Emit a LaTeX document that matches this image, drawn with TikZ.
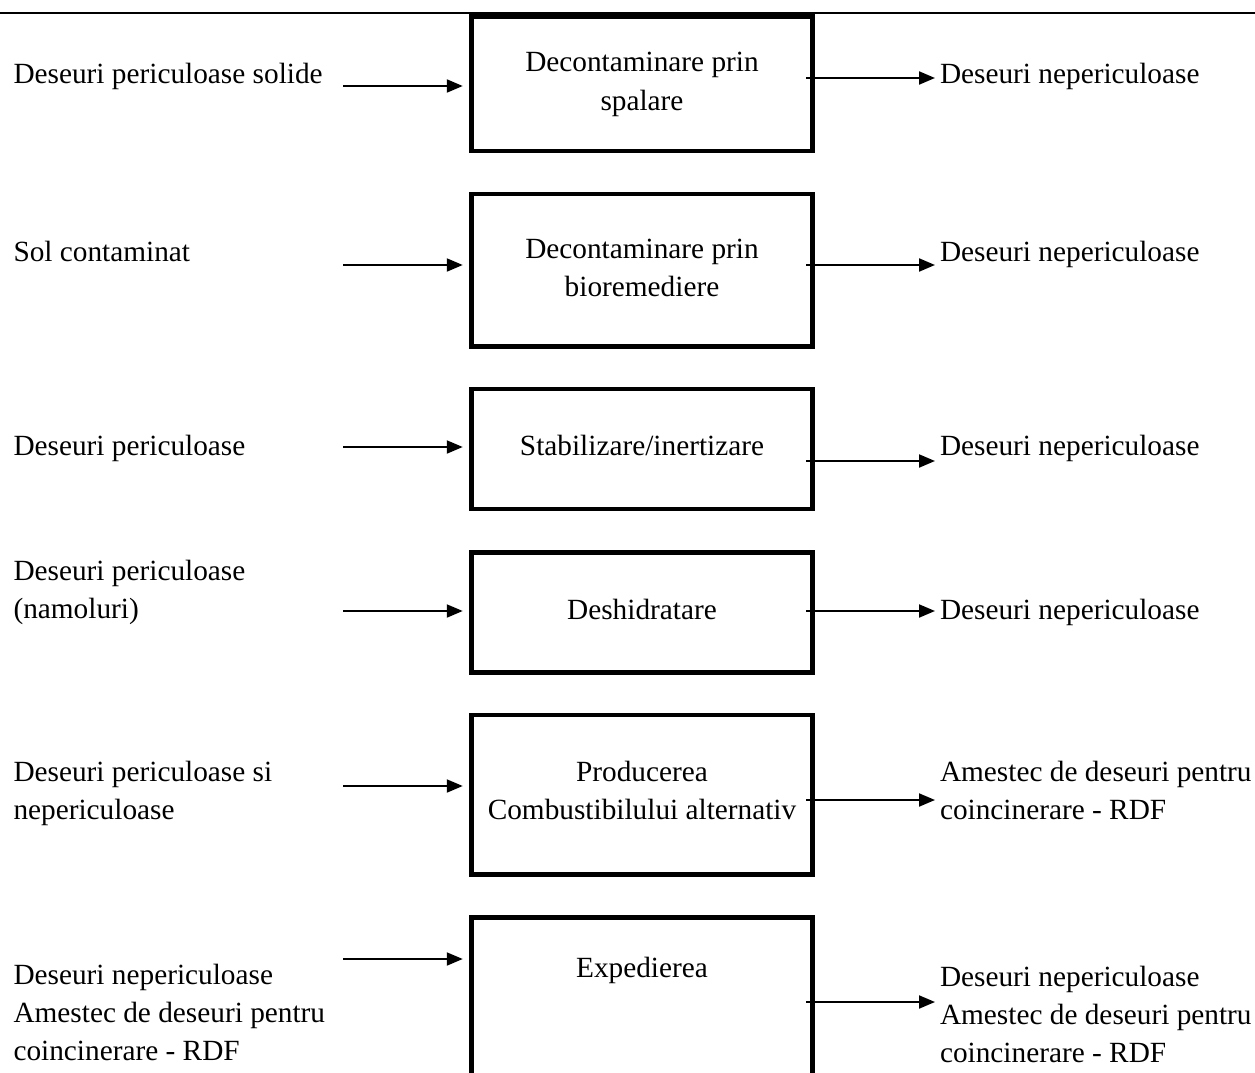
\documentclass[tikz,border=0pt]{standalone}
\usepackage{fontspec}
\setmainfont{Liberation Serif}
\usetikzlibrary{arrows.meta}
\newcommand{\mlines}[1]{\begin{tabular}[t]{@{}l@{}}#1\end{tabular}}
\newcommand{\clines}[1]{\begin{tabular}[t]{@{}c@{}}#1\end{tabular}}
\begin{document}
\begin{tikzpicture}[x=1pt,y=-1pt,font=\fontsize{29.3}{38.4}\selectfont]
\tikzset{
  lbl/.style={inner sep=0pt, outer sep=0pt, anchor=base west},
  ctr/.style={inner sep=0pt, outer sep=0pt, anchor=base},
  procbox/.style={draw, line width=4.7pt, minimum width=340.6pt, inner sep=0pt},
  arr/.style={line width=2pt, -{Triangle[length=16pt,width=13pt]}},
  rule/.style={line width=2pt}
}
\clip (0,0) rectangle (1255,1073);
\fill[white] (0,0) rectangle (1255,1073);
% top rule
\coordinate (r0) at (0,13);
\coordinate (r1) at (1255,13);
\draw[rule] (r0) -- (r1);
% boxes
\node[procbox, minimum height=134.5pt] (b1) at (642,83.75) {};
\node[procbox, minimum height=152.5pt] (b2) at (642,270.25) {};
\node[procbox, minimum height=120pt] (b3) at (642,449) {};
\node[procbox, minimum height=120pt] (b4) at (642,612.5) {};
\node[procbox, minimum height=159.5pt] (b5) at (642,794.75) {};
\node[procbox, minimum height=202.5pt] (b6) at (642,1018.75) {};
% box texts
\node[ctr] (t1) at (642,71.7) {\clines{Decontaminare prin\\spalare}};
\node[ctr] (t2) at (642,258.5) {\clines{Decontaminare prin\\bioremediere}};
\node[ctr] (t3) at (642,455) {Stabilizare/inertizare};
\node[ctr] (t4) at (642,619) {Deshidratare};
\node[ctr] (t5) at (642,781) {\clines{Producerea\\Combustibilului alternativ}};
\node[ctr] (t6) at (642,977) {Expedierea};
% left labels
\node[lbl] (l1) at (13.5,84) {Deseuri periculoase solide};
\node[lbl] (l2) at (13.5,261) {Sol contaminat};
\node[lbl] (l3) at (13.5,455) {Deseuri periculoase};
\node[lbl] (l4) at (13.5,580) {\mlines{Deseuri periculoase\\(namoluri)}};
\node[lbl] (l5) at (13.5,781) {\mlines{Deseuri periculoase si\\nepericuloase}};
\node[lbl] (l6) at (13.5,984) {\mlines{Deseuri nepericuloase\\Amestec de deseuri pentru\\coincinerare - RDF}};
% right labels
\node[lbl] (r1t) at (940,84) {Deseuri nepericuloase};
\node[lbl] (r2t) at (940,261) {Deseuri nepericuloase};
\node[lbl] (r3t) at (940,455) {Deseuri nepericuloase};
\node[lbl] (r4t) at (940,619) {Deseuri nepericuloase};
\node[lbl] (r5t) at (940,781) {\mlines{Amestec de deseuri pentru\\coincinerare - RDF}};
\node[lbl] (r6t) at (940,986) {\mlines{Deseuri nepericuloase\\Amestec de deseuri pentru\\coincinerare - RDF}};
% input arrow starts
\coordinate (i1) at (343,86);
\coordinate (i2) at (343,265);
\coordinate (i3) at (343,447);
\coordinate (i4) at (343,611);
\coordinate (i5) at (343,786);
\coordinate (i6) at (343,959);
% output arrow ends
\coordinate (o1) at (935,78);
\coordinate (o2) at (935,265);
\coordinate (o3) at (935,461);
\coordinate (o4) at (935,611);
\coordinate (o5) at (935,800);
\coordinate (o6) at (935,1002);
\foreach \k in {1,...,6}{
  \draw[arr, shorten >=6.6pt] (i\k) -- (i\k -| b\k.west);
  \draw[arr, shorten <=-8.5pt] (b\k.east |- o\k) -- (o\k);
}
\end{tikzpicture}
\end{document}
